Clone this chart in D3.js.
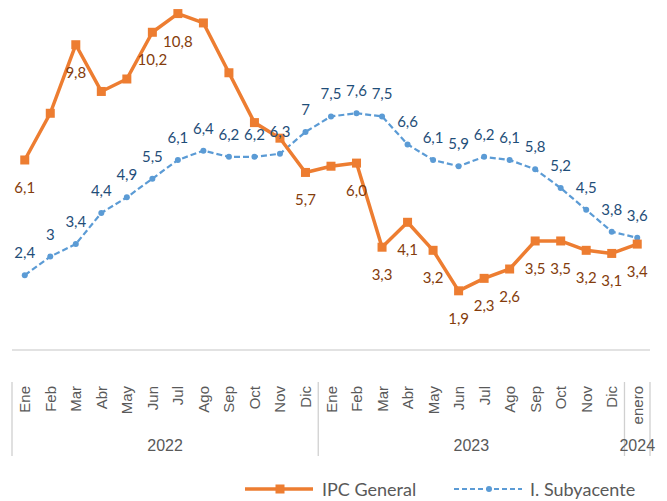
<!DOCTYPE html>
<html>
<head>
<meta charset="utf-8">
<script src="https://cdn.jsdelivr.net/npm/d3@7"></script>
<style>
  body { margin: 0; background: #fff; }
  svg { display: block; }
  .lbl { font-family: Lato, "Open Sans", sans-serif; font-size: 15px; }
  .axis-text { font-family: "Liberation Sans", Arial, sans-serif; fill: #595959; }
</style>
</head>
<body>
<svg id="chart" width="667" height="501"></svg>
<script>
// months and year groups
const months = ['Ene','Feb','Mar','Abr','May','Jun','Jul','Ago','Sep','Oct','Nov','Dic',
                'Ene','Feb','Mar','Abr','May','Jun','Jul','Ago','Sep','Oct','Nov','Dic',
                'enero']
const years = [
  { label: '2022', from: 0, to: 11 },
  { label: '2023', from: 12, to: 23 },
  { label: '2024', from: 24, to: 24 }
]

// IPC General (y/y %), null label = not shown in the original
const ipcGeneral = [6.1, 7.6, 9.8, 8.3, 8.7, 10.2, 10.8, 10.5, 8.9, 7.3, 6.8, 5.7,
                    5.9, 6.0, 3.3, 4.1, 3.2, 1.9, 2.3, 2.6, 3.5, 3.5, 3.2, 3.1, 3.4]
const ipcShown   = [1, 0, 1, 0, 0, 1, 1, 0, 0, 0, 0, 1,
                    0, 1, 1, 1, 1, 1, 1, 1, 1, 1, 1, 1, 1]

// Indice subyacente
const subyacente = [2.4, 3, 3.4, 4.4, 4.9, 5.5, 6.1, 6.4, 6.2, 6.2, 6.3, 7,
                    7.5, 7.6, 7.5, 6.6, 6.1, 5.9, 6.2, 6.1, 5.8, 5.2, 4.5, 3.8, 3.6]

const svg = d3.select('#chart')
const fmt = v => String(v).replace('.', ',')

const x = d3.scaleBand().domain(d3.range(months.length)).range([12, 650]).padding(0)
const cx = i => x(i) + x.bandwidth() / 2
const y = d3.scaleLinear().domain([0, 10]).range([350, 38.5])

// baseline
svg.append('line')
  .attr('x1', 12).attr('x2', 650).attr('y1', 350).attr('y2', 350)
  .attr('stroke', '#d9d9d9').attr('stroke-width', 1.3)

// group separators
const seps = [0, 12, 24, 25].map(i => i < months.length ? x(i) : x(24) + x.bandwidth())
svg.selectAll('line.sep').data(seps).enter().append('line')
  .attr('class', 'sep')
  .attr('x1', d => d).attr('x2', d => d)
  .attr('y1', 382).attr('y2', 456)
  .attr('stroke', '#d0d0d0').attr('stroke-width', 1.3)

// month labels
svg.selectAll('text.month').data(months).enter().append('text')
  .attr('class', 'month axis-text')
  .attr('transform', (d, i) => `translate(${cx(i)},386) rotate(-90)`)
  .attr('text-anchor', 'end')
  .attr('dominant-baseline', 'central')
  .style('font-size', '15px')
  .text(d => d)

// year labels
svg.selectAll('text.year').data(years).enter().append('text')
  .attr('class', 'year axis-text')
  .attr('x', d => (x(d.from) + x(d.to) + x.bandwidth()) / 2)
  .attr('y', 451)
  .attr('text-anchor', 'middle')
  .style('font-size', '16px')
  .text(d => d.label)

// subyacente line
const line = d3.line().x((d, i) => cx(i)).y(d => y(d))

svg.append('path').datum(subyacente)
  .attr('d', line)
  .attr('fill', 'none')
  .attr('stroke', '#5B9BD5')
  .attr('stroke-width', 2.2)
  .attr('stroke-dasharray', '6,3')

svg.selectAll('circle.sub').data(subyacente).enter().append('circle')
  .attr('class', 'sub')
  .attr('cx', (d, i) => cx(i)).attr('cy', d => y(d))
  .attr('r', 3).attr('fill', '#5B9BD5')

// IPC line
svg.append('path').datum(ipcGeneral)
  .attr('d', line)
  .attr('fill', 'none')
  .attr('stroke', '#ED7D31')
  .attr('stroke-width', 3.5)
  .attr('stroke-linejoin', 'round')

svg.selectAll('rect.ipc').data(ipcGeneral).enter().append('rect')
  .attr('class', 'ipc')
  .attr('x', (d, i) => cx(i) - 4.5).attr('y', d => y(d) - 4.5)
  .attr('width', 9).attr('height', 9)
  .attr('fill', '#ED7D31')

// data labels
svg.selectAll('text.sublbl').data(subyacente).enter().append('text')
  .attr('class', 'sublbl lbl')
  .attr('x', (d, i) => cx(i)).attr('y', d => y(d) - 23)
  .attr('text-anchor', 'middle').attr('dominant-baseline', 'central')
  .attr('fill', '#1F4E79')
  .text(fmt)

svg.selectAll('text.ipclbl')
  .data(ipcGeneral.map((v, i) => ({ v, i })).filter(d => ipcShown[d.i]))
  .enter().append('text')
  .attr('class', 'ipclbl lbl')
  .attr('x', d => cx(d.i)).attr('y', d => y(d.v) + 27)
  .attr('text-anchor', 'middle').attr('dominant-baseline', 'central')
  .attr('fill', '#843C0C')
  .text(d => d.v.toFixed(1).replace('.', ','))

// legend
const legend = svg.append('g').attr('transform', 'translate(0,489)')
legend.append('line').attr('x1', 245).attr('x2', 313)
  .attr('stroke', '#ED7D31').attr('stroke-width', 3.5)
legend.append('rect').attr('x', 275.5).attr('y', -4.5).attr('width', 9).attr('height', 9)
  .attr('fill', '#ED7D31')
legend.append('text').attr('x', 322).attr('dominant-baseline', 'central')
  .attr('class', 'lbl').style('font-size', '18px').attr('fill', '#595959')
  .text('IPC General')

legend.append('line').attr('x1', 454).attr('x2', 522)
  .attr('stroke', '#5B9BD5').attr('stroke-width', 2.2).attr('stroke-dasharray', '5,3')
legend.append('circle').attr('cx', 489).attr('r', 3).attr('fill', '#5B9BD5')
legend.append('text').attr('x', 530).attr('dominant-baseline', 'central')
  .attr('class', 'lbl').style('font-size', '18px').attr('fill', '#595959')
  .text('I. Subyacente')
</script>
</body>
</html>
